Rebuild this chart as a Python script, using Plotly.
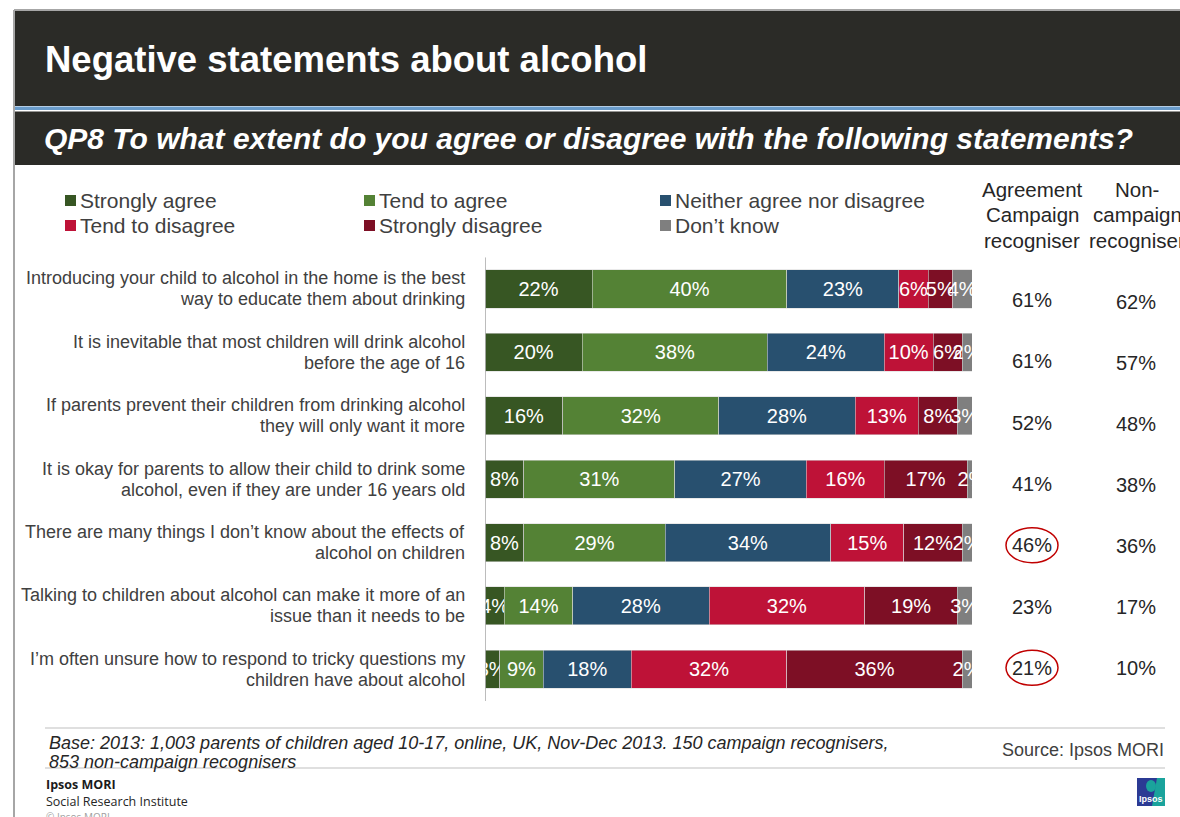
import plotly.graph_objects as go

W, H = 1180, 817

# Survey statements (two display lines each)
statements = [
    ["Introducing your child to alcohol in the home is the best", "way to educate them about drinking"],
    ["It is inevitable that most children will drink alcohol", "before the age of 16"],
    ["If parents prevent their children from drinking alcohol", "they will only want it more"],
    ["It is okay for parents to allow their child to drink some", "alcohol, even if they are under 16 years old"],
    ["There are many things I don\u2019t know about the effects of", "alcohol on children"],
    ["Talking to children about alcohol can make it more of an", "issue than it needs to be"],
    ["I\u2019m often unsure how to respond to tricky questions my", "children have about alcohol"],
]

response_names = ["Strongly agree", "Tend to agree", "Neither agree nor disagree",
                  "Tend to disagree", "Strongly disagree", "Don\u2019t know"]

strongly_agree    = [22, 20, 16, 8, 8, 4, 3]
tend_to_agree     = [40, 38, 32, 31, 29, 14, 9]
neither           = [23, 24, 28, 27, 34, 28, 18]
tend_to_disagree  = [6, 10, 13, 16, 15, 32, 32]
strongly_disagree = [5, 6, 8, 17, 12, 19, 36]
dont_know         = [4, 2, 3, 2, 2, 3, 2]

agree_campaign     = [61, 61, 52, 41, 46, 23, 21]
agree_non_campaign = [62, 57, 48, 38, 36, 17, 10]
circled_rows = [4, 6]

series = [strongly_agree, tend_to_agree, neither, tend_to_disagree, strongly_disagree, dont_know]
colors = ["#375623", "#548235", "#28506F", "#BE1237", "#7D0F25", "#7F7F7F"]

FONT = "Liberation Sans, Arial, sans-serif"
TXT = "#404040"


def px(x):
    return x / W


def py(y):
    return 1 - y / H


rows = list(range(len(statements)))

fig = go.Figure()
for name, vals, col in zip(response_names, series, colors):
    fig.add_trace(go.Bar(
        name=name, y=rows, x=vals, orientation="h", width=0.6,
        marker=dict(color=col, line=dict(color="rgba(215,215,215,0.7)", width=0.8)),
        texttemplate="%{x}%", textposition="inside", insidetextanchor="middle",
        textangle=0, textfont=dict(color="white", size=20, family=FONT),
        hoverinfo="skip", showlegend=False,
    ))

shapes = []
ann = []

# Header bands
shapes.append(dict(type="rect", xref="paper", yref="paper", x0=px(15), x1=1.0,
                   y0=py(106), y1=py(11), fillcolor="#2B2B27", line_width=0, layer="below"))
shapes.append(dict(type="rect", xref="paper", yref="paper", x0=px(15), x1=1.0,
                   y0=py(110), y1=py(106.5), fillcolor="#6A9CCB", line_width=0, layer="below"))
shapes.append(dict(type="rect", xref="paper", yref="paper", x0=px(15), x1=1.0,
                   y0=py(165), y1=py(111.5), fillcolor="#2B2B27", line_width=0, layer="below"))
# Frame lines
shapes.append(dict(type="line", xref="paper", yref="paper", x0=px(14), x1=1.0,
                   y0=py(10), y1=py(10), line=dict(color="#A6A6A6", width=2)))
shapes.append(dict(type="line", xref="paper", yref="paper", x0=px(14), x1=px(14),
                   y0=py(10), y1=0, line=dict(color="#A6A6A6", width=2)))
# Footer rules
for yy in (728, 768):
    shapes.append(dict(type="line", xref="paper", yref="paper", x0=px(45), x1=px(1165),
                       y0=py(yy), y1=py(yy), line=dict(color="#BFBFBF", width=1.2)))
# Category axis line
shapes.append(dict(type="line", xref="x", yref="y", x0=0, x1=0, y0=-0.5, y1=6.5,
                   line=dict(color="#A6A6A6", width=1.5)))

ann.append(dict(text="Chart 3", x=px(15), y=py(2), xanchor="left", yanchor="bottom",
                font=dict(size=20, color="#000000", family=FONT)))
ann.append(dict(text="<b>Negative statements about alcohol</b>", x=px(43), y=py(60),
                xanchor="left", yanchor="middle", font=dict(size=36.5, color="white", family=FONT)))
ann.append(dict(text="<b><i>QP8 To what extent do you agree or disagree with the following statements?</i></b>",
                x=px(42), y=py(138), xanchor="left", yanchor="middle",
                font=dict(size=30, color="white", family=FONT)))

# Legend
leg_cols = [65, 364, 660]
leg_rows = [201, 226]
for i, (name, col) in enumerate(zip(response_names, colors)):
    cx = leg_cols[i % 3]
    cy = leg_rows[i // 3]
    shapes.append(dict(type="rect", xref="paper", yref="paper", x0=px(cx), x1=px(cx + 11),
                       y0=py(cy + 5), y1=py(cy - 6), fillcolor=col, line_width=0))
    ann.append(dict(text=name, x=px(cx + 13), y=py(cy), xanchor="left", yanchor="middle",
                    font=dict(size=21, color=TXT, family=FONT)))

# Column headers
for cx, lines in ((1032, ["Agreement", "Campaign", "recogniser"]),
                  (1137, ["Non-", "campaign", "recogniser"])):
    for j, t in enumerate(lines):
        ann.append(dict(text=t, x=px(cx), y=py(189 + 25.5 * j), xanchor="center", yanchor="middle",
                        font=dict(size=20.5, color="#262626", family=FONT)))

# Statement labels, right aligned
for i, (l1, l2) in enumerate(statements):
    for k, t in enumerate((l1, l2)):
        ann.append(dict(text=t, xref="paper", yref="y", x=px(467), y=i, yshift=10.5 - 21 * k,
                        xanchor="right", yanchor="middle",
                        font=dict(size=18, color=TXT, family=FONT)))

# Agreement columns
for i in rows:
    ycam = 300 + 61.3 * i
    ynon = 302 + 61.0 * i
    ann.append(dict(text=f"{agree_campaign[i]}%", x=px(1032), y=py(ycam), xanchor="center",
                    yanchor="middle", font=dict(size=20, color="#262626", family=FONT)))
    ann.append(dict(text=f"{agree_non_campaign[i]}%", x=px(1136), y=py(ynon), xanchor="center",
                    yanchor="middle", font=dict(size=20, color="#262626", family=FONT)))
    if i in circled_rows:
        shapes.append(dict(type="circle", xref="paper", yref="paper", x0=px(1006), x1=px(1058),
                           y0=py(ycam + 17.5), y1=py(ycam - 17.5),
                           line=dict(color="#C00000", width=1.5)))

# Footer text
ann.append(dict(text="<i>Base: 2013: 1,003 parents of children aged 10-17, online, UK, Nov-Dec 2013. 150 campaign recognisers,</i>",
                x=px(47), y=py(743), xanchor="left", yanchor="middle",
                font=dict(size=18, color="#262626", family=FONT)))
ann.append(dict(text="<i>853 non-campaign recognisers</i>", x=px(47), y=py(762), xanchor="left",
                yanchor="middle", font=dict(size=18, color="#262626", family=FONT)))
ann.append(dict(text="Source: Ipsos MORI", x=px(1166), y=py(750), xanchor="right", yanchor="middle",
                font=dict(size=18, color="#404040", family=FONT)))
ann.append(dict(text="<b>Ipsos MORI</b>", x=px(44), y=py(784), xanchor="left", yanchor="middle",
                font=dict(size=12.5, color="#1A1A1A", family="Open Sans, sans-serif")))
ann.append(dict(text="Social Research Institute", x=px(44), y=py(801), xanchor="left", yanchor="middle",
                font=dict(size=12.5, color="#262626", family="Open Sans, sans-serif")))
ann.append(dict(text="\u00a9 Ipsos MORI", x=px(44), y=py(817), xanchor="left", yanchor="middle",
                font=dict(size=10, color="#A0A0A0", family="Open Sans, sans-serif")))

# Ipsos badge
shapes.append(dict(type="rect", xref="paper", yref="paper", x0=px(1137), x1=px(1165),
                   y0=py(806), y1=py(778), fillcolor="#2B3A94", line_width=0))
shapes.append(dict(type="path", xref="paper", yref="paper",
                   path=f"M {px(1157)},{py(778)} L {px(1165)},{py(778)} L {px(1165)},{py(806)} L {px(1152)},{py(806)} Z",
                   fillcolor="#1AA39C", line_width=0))
shapes.append(dict(type="circle", xref="paper", yref="paper", x0=px(1146), x1=px(1156),
                   y0=py(792), y1=py(780), fillcolor="#1AA39C", line_width=0))
ann.append(dict(text="<b>Ipsos</b>", x=px(1151), y=py(799), xanchor="center", yanchor="middle",
                font=dict(size=9, color="white", family=FONT)))

for a in ann:
    a.setdefault("xref", "paper")
    a.setdefault("yref", "paper")
    a["showarrow"] = False

fig.update_layout(
    width=W, height=H, margin=dict(l=0, r=0, t=0, b=0),
    paper_bgcolor="white", plot_bgcolor="white",
    barmode="stack", bargap=0.4,
    uniformtext=dict(minsize=20, mode="show"),
    xaxis=dict(domain=[px(485), px(972)], range=[0, 100], visible=False, fixedrange=True),
    yaxis=dict(domain=[py(701), py(257.3)], range=[6.5, -0.5], visible=False, fixedrange=True),
    shapes=shapes, annotations=ann, hovermode=False,
)

fig.write_html("out.html")
